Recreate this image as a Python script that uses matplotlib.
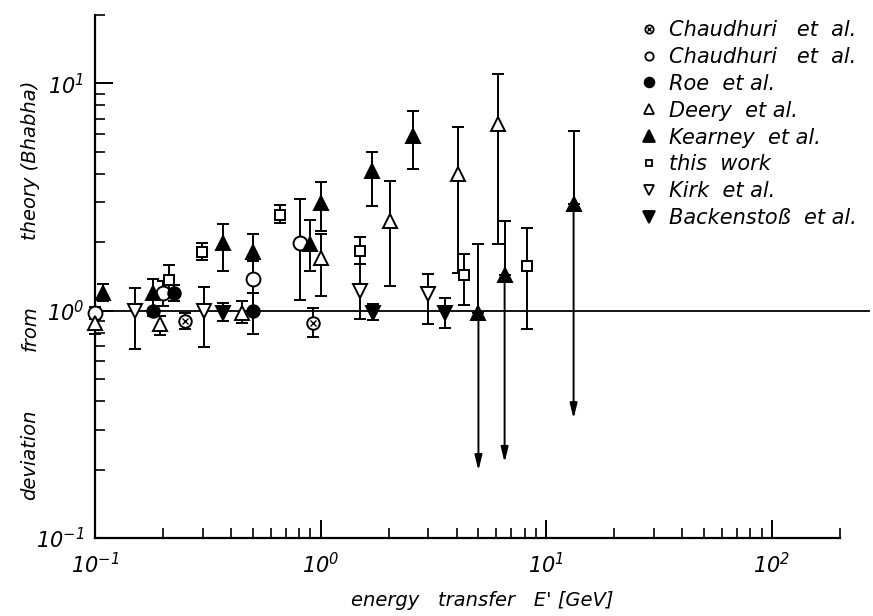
import matplotlib
matplotlib.use("Agg")
import matplotlib.pyplot as plt
from matplotlib.lines import Line2D
from matplotlib.legend_handler import HandlerTuple
from matplotlib.ticker import FixedLocator, LogLocator, NullFormatter

plt.rcParams['font.family'] = 'DejaVu Sans'
plt.rcParams['mathtext.fontset'] = 'custom'
plt.rcParams['mathtext.rm'] = 'DejaVu Sans:italic'
plt.rcParams['mathtext.it'] = 'DejaVu Sans:italic'

# data: energy transfer E' [GeV], deviation, error low / high
chx_x = [0.25, 0.92]
chx_y = [0.90, 0.886]
chx_lo = [0.83, 0.77]
chx_hi = [0.98, 1.03]

cho_x = [0.1, 0.2, 0.5, 0.81]
cho_y = [0.98, 1.2, 1.38, 1.99]
cho_lo = [0.92, 1.05, 1.0, 1.12]
cho_hi = [1.04, 1.35, 1.66, 3.1]

roe_x = [0.18, 0.225, 0.5]
roe_y = [1.0, 1.2, 1.0]
roe_lo = [1.0, 1.1, 0.79]
roe_hi = [1.0, 1.3, 1.2]

deery_x = [0.1, 0.195, 0.447, 1.0, 2.02, 4.05, 6.09]
deery_y = [0.88, 0.87, 0.98, 1.71, 2.49, 4.0, 6.64]
deery_lo = [0.79, 0.78, 0.88, 1.16, 1.29, 1.47, 1.97]
deery_hi = [0.95, 0.95, 1.1, 2.18, 3.73, 6.44, 11.0]

kear_x = [0.108, 0.18, 0.368, 0.5, 0.894, 1.0, 1.68, 2.56]
kear_y = [1.2, 1.2, 1.99, 1.82, 1.97, 2.98, 4.12, 5.88]
kear_lo = [1.1, 0.95, 1.5, 1.38, 1.5, 2.25, 2.89, 4.21]
kear_hi = [1.31, 1.38, 2.41, 2.18, 2.51, 3.69, 5.0, 7.57]

# Kearney points whose lower error runs off as an arrow
kear_arr_x = [5.0, 6.53, 13.2]
kear_arr_y = [0.98, 1.43, 2.95]
kear_arr_lo = [0.198, 0.215, 0.335]
kear_arr_hi = [1.97, 2.49, 6.18]

work_x = [0.212, 0.297, 0.658, 1.5, 4.3, 8.18]
work_y = [1.37, 1.82, 2.64, 1.84, 1.43, 1.58]
work_lo = [1.16, 1.68, 2.44, 1.61, 1.06, 0.83]
work_hi = [1.59, 1.99, 2.92, 2.11, 1.78, 2.32]

kirk_x = [0.151, 0.303, 1.5, 2.98]
kirk_y = [1.0, 1.0, 1.22, 1.19]
kirk_lo = [0.68, 0.69, 0.92, 0.87]
kirk_hi = [1.26, 1.27, 1.61, 1.45]

back_x = [0.368, 1.7, 3.54]
back_y = [0.98, 0.98, 0.98]
back_lo = [0.90, 0.91, 0.84]
back_hi = [1.08, 1.07, 1.14]

labels = ["Chaudhuri   et  al.", "Chaudhuri   et  al.", "Roe  et al.", "Deery  et al.",
          "Kearney  et al.", "this  work", "Kirk  et al.", "Backenstoß  et al."]

fig = plt.figure(figsize=(8.73, 6.16), dpi=100)
ax = fig.add_axes([95 / 873, 1 - 538 / 616, (840 - 95) / 873, (538 - 15) / 616])
ax.set_xscale('log')
ax.set_yscale('log')
ax.set_xlim(0.1, 200)
ax.set_ylim(0.1, 20)

ax.plot([0.1, 270], [1.0, 1.0], color='k', lw=1.3, clip_on=False, zorder=1)


def errs(y, lo, hi):
    return [[a - b for a, b in zip(y, lo)], [b - a for a, b in zip(y, hi)]]


ekw = dict(color='k', ecolor='k', elinewidth=1.4, capsize=4.5, capthick=1.4,
           linestyle='none', mec='k', mew=1.4, clip_on=False, zorder=3)

ax.errorbar(chx_x, chx_y, yerr=errs(chx_y, chx_lo, chx_hi), marker='o', ms=9, mfc='white', **ekw)
ax.plot(chx_x, chx_y, 'x', color='k', ms=4, mew=1.0, zorder=4)
ax.errorbar(cho_x, cho_y, yerr=errs(cho_y, cho_lo, cho_hi), marker='o', ms=10, mfc='white', **ekw)
ax.errorbar(roe_x, roe_y, yerr=errs(roe_y, roe_lo, roe_hi), marker='o', ms=9, mfc='k', **ekw)
ax.errorbar(deery_x, deery_y, yerr=errs(deery_y, deery_lo, deery_hi), marker='^', ms=10, mfc='white', **ekw)
ax.errorbar(kear_x, kear_y, yerr=errs(kear_y, kear_lo, kear_hi), marker='^', ms=10, mfc='k', **ekw)
ax.errorbar(kear_arr_x, kear_arr_y, yerr=[[0] * len(kear_arr_y), [b - a for a, b in zip(kear_arr_y, kear_arr_hi)]],
            marker='^', ms=10, mfc='k', **ekw)
for x, y, lo in zip(kear_arr_x, kear_arr_y, kear_arr_lo):
    ax.annotate('', xy=(x, lo), xytext=(x, y),
                arrowprops=dict(arrowstyle='-|>,head_length=0.9,head_width=0.22', color='k', lw=1.4,
                                shrinkA=0, shrinkB=0))
ax.errorbar(work_x, work_y, yerr=errs(work_y, work_lo, work_hi), marker='s', ms=7, mfc='white', **ekw)
ax.errorbar(kirk_x, kirk_y, yerr=errs(kirk_y, kirk_lo, kirk_hi), marker='v', ms=10, mfc='white', **ekw)
ax.errorbar(back_x, back_y, yerr=errs(back_y, back_lo, back_hi), marker='v', ms=10, mfc='k', **ekw)

# axes styling
for side in ['top', 'right']:
    ax.spines[side].set_visible(False)
for side in ['left', 'bottom']:
    ax.spines[side].set_linewidth(1.6)

ax.xaxis.set_major_locator(FixedLocator([0.1, 1, 10, 100]))
ax.yaxis.set_major_locator(FixedLocator([0.1, 1, 10]))
ax.xaxis.set_minor_locator(LogLocator(base=10, subs=range(2, 10), numticks=20))
ax.yaxis.set_minor_locator(LogLocator(base=10, subs=range(2, 10), numticks=20))
ax.xaxis.set_minor_formatter(NullFormatter())
ax.yaxis.set_minor_formatter(NullFormatter())
ax.set_xticklabels([r'$10^{-1}$', r'$10^{0}$', r'$10^{1}$', r'$10^{2}$'])
ax.set_yticklabels([r'$10^{-1}$', r'$10^{0}$', r'$10^{1}$'])
ax.tick_params(which='major', direction='in', length=13, width=1.4, labelsize=15, pad=10)
ax.tick_params(which='minor', direction='in', length=7, width=1.2)
ax.tick_params(axis='y', which='major', pad=8)

fig.text(482 / 873, 1 - 600 / 616, "energy   transfer   E' [GeV]", ha='center', va='center',
         fontsize=14, style='italic')
fig.text(30 / 873, 1 - 455 / 616, "deviation", rotation=90, ha='center', va='center', fontsize=14, style='italic')
fig.text(30 / 873, 1 - 328 / 616, "from", rotation=90, ha='center', va='center', fontsize=14, style='italic')
fig.text(30 / 873, 1 - 160 / 616, "theory (Bhabha)", rotation=90, ha='center', va='center', fontsize=14,
         style='italic')

lkw = dict(linestyle='none', mec='k', mew=1.3)
handles = [
    (Line2D([], [], marker='o', ms=6, mfc='white', **lkw),
     Line2D([], [], marker='x', ms=3, color='k', mew=1.0, linestyle='none')),
    Line2D([], [], marker='o', ms=6, mfc='white', **lkw),
    Line2D([], [], marker='o', ms=7, mfc='k', **lkw),
    Line2D([], [], marker='^', ms=7, mfc='white', **lkw),
    Line2D([], [], marker='^', ms=8, mfc='k', **lkw),
    Line2D([], [], marker='s', ms=5, mfc='white', **lkw),
    Line2D([], [], marker='v', ms=7, mfc='white', **lkw),
    Line2D([], [], marker='v', ms=8, mfc='k', **lkw),
]
fig.legend(handles, labels, loc='upper left', bbox_to_anchor=(641 / 873, 1 - 20 / 616),
           frameon=False, handlelength=0.8, handletextpad=0.55, labelspacing=0.33,
           prop=dict(size=15, style='italic'), handler_map={tuple: HandlerTuple(ndivide=1)},
           borderaxespad=0, borderpad=0)

fig.savefig("out.png", dpi=100)
